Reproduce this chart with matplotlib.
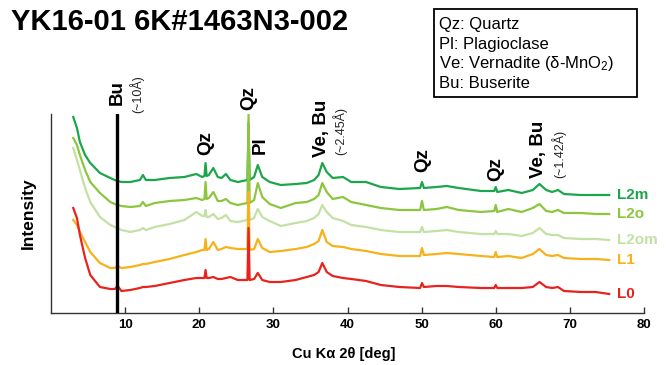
import matplotlib
matplotlib.use("Agg")
import matplotlib.pyplot as plt
from matplotlib.patches import Rectangle

plt.rcParams["font.family"] = ["Liberation Sans", "DejaVu Sans"]
plt.rcParams["mathtext.default"] = "regular"

# Cu Ka 2-theta positions shared by all scans (deg)
two_theta = [3.0, 3.5, 3.9, 4.6, 5.3, 6.6, 8.0, 8.6, 9.0, 9.5,
             10.7, 12.0, 12.4, 12.8, 14.0, 16.0, 18.0, 19.6, 20.4, 20.7,
             20.85, 21.0, 21.3, 21.9, 22.5, 23.0, 23.6, 24.2, 25.2, 26.5,
             26.65, 26.8, 27.4, 27.9, 28.5, 29.5, 31.0, 33.0, 34.5, 35.5,
             36.1, 36.6, 37.2, 38.0, 39.4, 40.5, 42.5, 44.5, 47.0, 49.8,
             50.05, 50.3, 52.0, 53.4, 55.0, 58.0, 59.8, 60.0, 60.2, 61.7,
             63.5, 65.0, 65.9, 66.8, 67.6, 68.4, 69.2, 71.5, 73.5, 75.3]

# stacked intensities (arb. units, offsets included as in the figure)
l2m = [196, 185, 171, 158, 150, 140, 135, 133, 132, 131,
       131, 133, 138, 133, 133, 135, 136, 139, 136, 137,
       150, 137, 138, 145, 136, 135, 139, 133, 131, 133,
       190, 133, 136, 148, 136, 131, 128, 129, 130, 133,
       138, 150, 141, 135, 136, 131, 131, 126, 124, 125,
       131, 125, 126, 127, 125, 122, 122, 126, 121, 123,
       120, 123, 129, 123, 121, 123, 119, 118, 118, 118]
l2o = [175, 168, 158, 143, 131, 120, 111, 109, 108, 107,
       106, 107, 111, 107, 110, 112, 113, 115, 113, 114,
       131, 114, 115, 121, 112, 112, 114, 110, 108, 110,
       199, 110, 113, 130, 116, 109, 105, 110, 111, 114,
       118, 130, 121, 114, 116, 111, 108, 105, 103, 103,
       112, 103, 104, 106, 103, 101, 102, 108, 101, 104,
       101, 105, 109, 102, 101, 103, 100, 100, 99, 99]
l2om = [165, 153, 143, 125, 111, 96, 88, 86, 85, 83,
        81, 83, 85, 83, 86, 89, 93, 101, 97, 97,
        103, 96, 96, 99, 94, 95, 98, 92, 91, 93,
        118, 93, 95, 104, 96, 92, 87, 90, 92, 95,
        99, 108, 101, 95, 92, 88, 86, 83, 81, 81,
        86, 81, 82, 83, 81, 79, 79, 82, 79, 79,
        77, 80, 85, 79, 78, 78, 75, 74, 74, 73]
l1 = [93, 88, 81, 71, 61, 50, 45, 45, 47, 45,
      46, 48, 49, 49, 51, 54, 58, 61, 63, 63,
      74, 63, 64, 71, 63, 64, 66, 65, 64, 64,
      121, 63, 64, 74, 65, 61, 62, 64, 66, 69,
      72, 83, 71, 67, 66, 64, 62, 59, 57, 57,
      65, 58, 59, 60, 59, 57, 56, 61, 56, 57,
      55, 59, 64, 58, 57, 58, 55, 54, 54, 53]
l0 = [105, 95, 78, 55, 38, 26, 24, 24, 27, 22,
      23, 25, 26, 26, 27, 30, 33, 35, 35, 35,
      43, 35, 35, 36, 34, 34, 35, 36, 33, 33,
      85, 33, 34, 40, 33, 31, 31, 33, 36, 38,
      41, 50, 41, 37, 35, 34, 32, 28, 26, 25,
      30, 26, 27, 27, 26, 25, 25, 28, 25, 25,
      25, 26, 31, 26, 25, 26, 22, 21, 21, 19]

sample_names = ["L2m", "L2o", "L2om", "L1", "L0"]
sample_data = [l2m, l2o, l2om, l1, l0]
sample_colors = ["#1ca64c", "#8cc63f", "#c3e1a4", "#f6b21a", "#e8231e"]

peak_names = ["Bu", "Qz", "Qz", "Pl", "Ve, Bu", "Qz", "Qz", "Ve, Bu"]
peak_pos = [8.9, 20.85, 26.65, 28.2, 36.5, 50.1, 60.0, 65.7]
d_notes = ["(~10Å)", "(~2.45Å)", "(~1.42Å)"]
d_pos = [11.6, 39.0, 68.5]

legend_lines = ["Qz: Quartz", "Pl: Plagioclase",
                "Ve: Vernadite (δ-MnO$_2$)", "Bu: Buserite"]

W, H = 671, 365
fig = plt.figure(figsize=(W / 100, H / 100), dpi=100)
ax = fig.add_axes([51 / W, 52 / H, 593 / W, 199 / H])

for i, (name, ys, c) in enumerate(zip(sample_names, sample_data, sample_colors)):
    ax.plot(two_theta, ys, color=c, lw=1.6, zorder=2 + i)
    ax.text(76.4, ys[-1], name, color=c, fontsize=11, fontweight="bold",
            va="center", ha="left", clip_on=False)

# buserite ~10 A reflection marker
ax.axvline(peak_pos[0], color="black", lw=2.4, zorder=10)

# peak labels (bottom of each label, in intensity units)
label_y = [208, 158, 203, 159, 156, 141, 132, 135]
for name, x, y in zip(peak_names, peak_pos, label_y):
    ax.text(x, y, name, rotation=90, ha="center", va="bottom", fontsize=13.5,
            fontweight="bold", clip_on=False)
note_y = [200, 158, 135]
for txt, x, y in zip(d_notes, d_pos, note_y):
    ax.text(x, y, txt, rotation=90, ha="center", va="bottom", fontsize=9,
            color="#222222", clip_on=False)

ax.set_xlim(0, 80)
ax.set_ylim(0, 199)
ax.set_yticks([])
ax.set_xticks(range(10, 81, 10))
ax.tick_params(axis="x", direction="in", length=4, width=1, labelsize=9.5, pad=4,
               color="#333333")
for lab in ax.get_xticklabels():
    lab.set_fontweight("bold")
for s in ["top", "right"]:
    ax.spines[s].set_visible(False)
for s in ["left", "bottom"]:
    ax.spines[s].set_color("#333333")
    ax.spines[s].set_linewidth(1)

fig.text(344 / W, 1 - 354 / H, "Cu Kα 2θ [deg]", ha="center", va="center",
         fontsize=10.5, fontweight="bold")
fig.text(28 / W, 1 - 213 / H, "Intensity", ha="center", va="center",
         rotation=90, fontsize=12.5, fontweight="bold")
fig.text(11 / W, 1 - 30 / H, "YK16-01 6K#1463N3-002", ha="left", va="baseline",
         fontsize=21, fontweight="bold")

# mineral key box
fig.patches.append(Rectangle((434 / W, 1 - 97 / H), 203 / W, 88 / H,
                             transform=fig.transFigure, fill=False,
                             edgecolor="black", lw=1.3))
for k, line in enumerate(legend_lines):
    fig.text(439 / W, 1 - (29 + 19.7 * k) / H, line, ha="left", va="baseline",
             fontsize=12)

fig.savefig("out.png", dpi=100)
